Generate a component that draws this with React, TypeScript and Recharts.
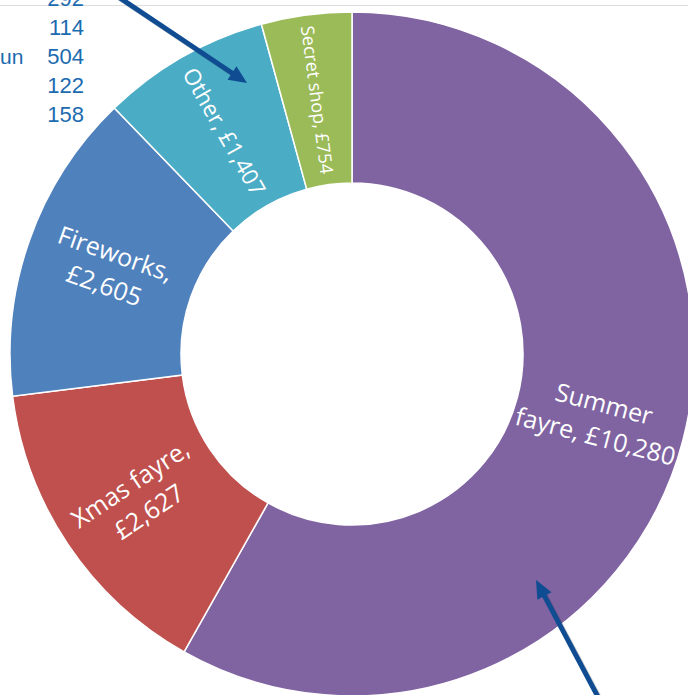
import React from "react";
import { PieChart, Pie, Cell } from "recharts";

const categories = ["Summer fayre", "Xmas fayre", "Fireworks", "Other", "Secret shop"];
const amounts = [10280, 2627, 2605, 1407, 754];
const sliceColors = ["#8064A2", "#C0504D", "#4F81BD", "#4BACC6", "#9BBB59"];
const labelLines: string[][] = [
  ["Summer", "fayre, £10,280"],
  ["Xmas fayre,", "£2,627"],
  ["Fireworks,", "£2,605"],
  ["Other, £1,407"],
  ["Secret shop, £754"],
];
const labelSizes = [25, 25, 25, 22.5, 18];

const tableValues = ["292", "114", "504", "122", "158"];
const tableLabels = ["", "", "un", "", ""];

const data = categories.map((name, i) => ({ name, value: amounts[i] }));

const RAD = Math.PI / 180;
const LABEL_FONT = "'Open Sans', 'Noto Sans', sans-serif";

const renderLabel = (props: any) => {
  const { cx, cy, midAngle, innerRadius, outerRadius, index } = props;
  const r = (innerRadius + outerRadius) / 2;
  const x = cx + r * Math.cos(-midAngle * RAD);
  const y = cy + r * Math.sin(-midAngle * RAD);
  let rot = -midAngle;
  rot = (((rot % 360) + 540) % 360) - 180;
  if (rot > 90) rot -= 180;
  if (rot < -90) rot += 180;
  const lines = labelLines[index];
  const fs = labelSizes[index];
  const lh = fs * 1.34;
  return (
    <g transform={`translate(${x},${y}) rotate(${rot})`}>
      <text
        textAnchor="middle"
        dominantBaseline="central"
        fill="#ffffff"
        fontSize={fs}
        fontFamily={LABEL_FONT}
      >
        {lines.map((ln, i) => (
          <tspan key={i} x={0} y={(i - (lines.length - 1) / 2) * lh}>
            {ln}
          </tspan>
        ))}
      </text>
    </g>
  );
};

function Arrow({ tip, dir, len }: { tip: [number, number]; dir: [number, number]; len: number }) {
  const m = Math.hypot(dir[0], dir[1]);
  const d = [dir[0] / m, dir[1] / m];
  const n = [-d[1], d[0]];
  const hl = 18;
  const hw = 16;
  const tail = [tip[0] - d[0] * len, tip[1] - d[1] * len];
  const base = [tip[0] - d[0] * hl, tip[1] - d[1] * hl];
  const pts = [
    [tip[0], tip[1]],
    [base[0] + (n[0] * hw) / 2, base[1] + (n[1] * hw) / 2],
    [base[0] - (n[0] * hw) / 2, base[1] - (n[1] * hw) / 2],
  ]
    .map((p) => p.join(","))
    .join(" ");
  const col = "#0F4C92";
  return (
    <g>
      <line
        x1={tail[0] + 2}
        y1={tail[1] + 2}
        x2={base[0] + d[0] * 4 + 2}
        y2={base[1] + d[1] * 4 + 2}
        stroke="rgba(0,0,0,0.18)"
        strokeWidth={5}
      />
      <line
        x1={tail[0]}
        y1={tail[1]}
        x2={base[0] + d[0] * 4}
        y2={base[1] + d[1] * 4}
        stroke={col}
        strokeWidth={5}
      />
      <polygon points={pts} fill={col} />
    </g>
  );
}

export default function App() {
  return (
    <div
      style={{
        position: "absolute",
        left: 0,
        top: 0,
        width: 688,
        height: 695,
        background: "#ffffff",
        overflow: "hidden",
      }}
    >
      <svg
        width={688}
        height={695}
        style={{ position: "absolute", left: 0, top: 0 }}
      >
        <line x1={0} y1={5.5} x2={688} y2={5.5} stroke="#dcdcdc" strokeWidth={1} />
      </svg>
      <div style={{ position: "absolute", left: 0, top: 0 }}>
        <PieChart width={688} height={695} margin={{ top: 0, right: 0, bottom: 0, left: 0 }}>
          <Pie
            data={data}
            dataKey="value"
            nameKey="name"
            cx={352}
            cy={354}
            innerRadius={171}
            outerRadius={342}
            startAngle={90}
            endAngle={-270}
            stroke="#ffffff"
            strokeWidth={1.5}
            label={renderLabel}
            labelLine={false}
            isAnimationActive={false}
          >
            {data.map((d, i) => (
              <Cell key={d.name} fill={sliceColors[i]} />
            ))}
          </Pie>
        </PieChart>
      </div>
      <svg
        width={688}
        height={695}
        style={{ position: "absolute", left: 0, top: 0, pointerEvents: "none" }}
      >
        {tableValues.map((v, i) => (
          <text
            key={"v" + i}
            x={84}
            y={6 + i * 29}
            textAnchor="end"
            fontSize={22}
            fontFamily="'Liberation Sans', Arial, sans-serif"
            fill="#1C6BB0"
          >
            {v}
          </text>
        ))}
        {tableLabels.map((t, i) =>
          t ? (
            <text
              key={"l" + i}
              x={0}
              y={6 + i * 29}
              textAnchor="start"
              fontSize={21}
              fontFamily="'Liberation Sans', Arial, sans-serif"
              fill="#1C6BB0"
            >
              {t}
            </text>
          ) : null
        )}
        <Arrow tip={[247, 83]} dir={[124, 83]} len={220} />
        <Arrow tip={[536, 580]} dir={[-61, -115]} len={160} />
      </svg>
    </div>
  );
}
